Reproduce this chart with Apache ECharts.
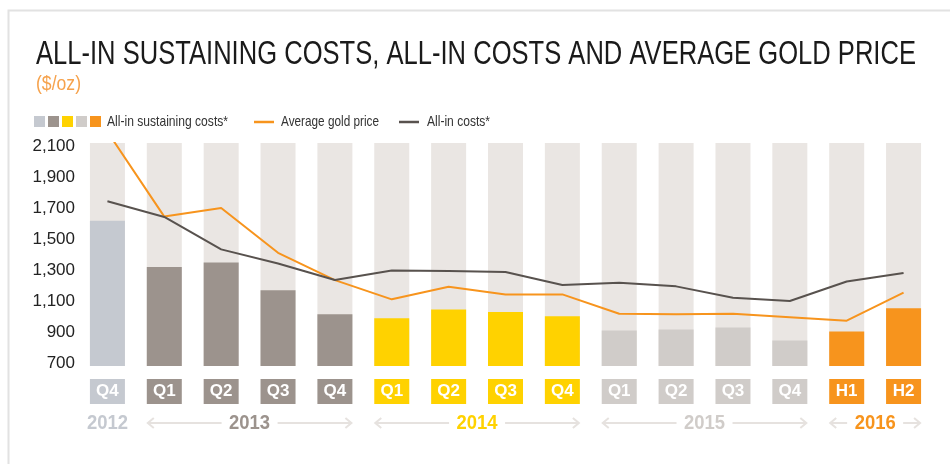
<!DOCTYPE html>
<html>
<head>
<meta charset="utf-8">
<script src="https://cdn.jsdelivr.net/npm/echarts@6/dist/echarts.min.js"></script>
<style>
html,body{margin:0;padding:0;background:#fff;}
#c{width:950px;height:464px;}
</style>
</head>
<body>
<div id="c"></div>
<script>
const categories = ['Q4','Q1','Q2','Q3','Q4','Q1','Q2','Q3','Q4','Q1','Q2','Q3','Q4','H1','H2'];
const periodYears = ['2012','2013','2013','2013','2013','2014','2014','2014','2014','2015','2015','2015','2015','2016','2016'];
const years = ['2012','2013','2014','2015','2016'];
const allInSustainingCosts = [1620,1320,1350,1170,1015,988,1046,1029,1001,910,916,929,845,903,1053];
const averageGoldPrice = [2195,1646,1702,1412,1235,1111,1193,1143,1143,1018,1014,1018,996,973,1155];
const allInCosts = [1745,1644,1434,1343,1236,1297,1295,1288,1204,1219,1195,1122,1100,1226,1282];
const yTickLabels = [700,900,1100,1300,1500,1700,1900,2100];
const titleText = 'ALL-IN SUSTAINING COSTS, ALL-IN COSTS AND AVERAGE GOLD PRICE';
const unitText = '($/oz)';
const legendLabels = ['All-in sustaining costs*','Average gold price','All-in costs*'];

const yearColors = {'2012':'#c5c9d0','2013':'#9c938d','2014':'#ffd200','2015':'#d0ccc9','2016':'#f7941d'};
const FONT = '"Liberation Sans",Arial,sans-serif';
const GOLD = '#f7941d', DARK = '#58524e', ARROW = '#e6e2df';

const rich = {};
years.forEach(y => {
  rich['y' + y] = {backgroundColor: yearColors[y], color:'#fff', width:35, height:25, align:'center',
    verticalAlign:'middle', fontFamily: FONT, fontWeight:'bold', fontSize:17, lineHeight:25};
});

const chart = echarts.init(document.getElementById('c'), null, {renderer:'canvas'});

const option = {
  animation:false,
  backgroundColor:'#fff',
  grid:{left:79, right:18, top:143, bottom:98, containLabel:false},
  xAxis:{
    type:'category', data:categories,
    axisLine:{show:false}, axisTick:{show:false},
    axisLabel:{margin:13, interval:0,
      formatter:(v, i) => '{y' + periodYears[i] + '|' + v + '}', rich: rich}
  },
  yAxis:{
    type:'value', min:680, max:2122,
    splitLine:{show:false}, axisLine:{show:false}, axisTick:{show:false},
    axisLabel:{customValues:yTickLabels, margin:4, fontFamily:FONT, fontSize:17, color:'#222',
      formatter:v => v.toLocaleString('en-US')}
  },
  series:[
    {name:legendLabels[0], type:'bar', barWidth:35,
      showBackground:true, backgroundStyle:{color:'#eae6e3'},
      data: allInSustainingCosts.map((v,i) => ({value:v, itemStyle:{color:yearColors[periodYears[i]]}}))},
    {name:legendLabels[1], type:'line', data:averageGoldPrice, symbol:'none', clip:true,
      lineStyle:{color:GOLD, width:2}, z:3},
    {name:legendLabels[2], type:'line', data:allInCosts, symbol:'none', clip:true,
      lineStyle:{color:DARK, width:2}, z:4}
  ]
};
chart.setOption(option);

// text fitted to a width via horizontal scale
const mctx = document.createElement('canvas').getContext('2d');
function fitText(text, font, x, y, width, fill, align) {
  mctx.font = font;
  const w = mctx.measureText(text).width;
  return {type:'text', x:x, y:y, scaleX: width / w, scaleY:1,
    style:{text:text, font:font, fill:fill, align:align || 'left', verticalAlign:'middle'}};
}

const px = i => chart.convertToPixel({xAxisIndex:0}, i);
const half = 17.5;
const yy = 423;
const g = [];
// frame
g.push({type:'polyline', shape:{points:[[8.5,470],[8.5,10.5],[960,10.5]]}, style:{stroke:'#e2e2e2', lineWidth:2, fill:null}, silent:true});
// title
g.push(fitText(titleText, '33px ' + FONT, 36, 55, 880, '#1a1a1a'));
g.push(fitText(unitText, '20px ' + FONT, 36, 84.5, 45, '#f6a24c'));
// legend
years.forEach((y, k) => {
  g.push({type:'rect', shape:{x:34 + k*14, y:116, width:11, height:11}, style:{fill:yearColors[y]}});
});
g.push(fitText(legendLabels[0], '15px ' + FONT, 107, 121.5, 121, '#333'));
g.push({type:'line', shape:{x1:254, y1:122, x2:274, y2:122}, style:{stroke:GOLD, lineWidth:2.5}});
g.push(fitText(legendLabels[1], '15px ' + FONT, 281, 121.5, 98, '#333'));
g.push({type:'line', shape:{x1:399, y1:122, x2:419, y2:122}, style:{stroke:DARK, lineWidth:2.5}});
g.push(fitText(legendLabels[2], '15px ' + FONT, 427, 121.5, 63, '#333'));

// year labels with arrows
years.forEach(y => {
  const idx = periodYears.map((p,i)=>p===y?i:-1).filter(i=>i>=0);
  const first = idx[0], last = idx[idx.length-1];
  const cx = (px(first) + px(last)) / 2;
  const t = fitText(y, 'bold 20px ' + FONT, cx, yy, 41, yearColors[y], 'center');
  g.push(t);
  if (idx.length > 1) {
    const lx1 = px(first) - half + 1, lx2 = cx - 28;
    const rx1 = cx + 28, rx2 = px(last) + half - 1;
    g.push({type:'line', shape:{x1:lx1, y1:yy, x2:lx2, y2:yy}, style:{stroke:ARROW, lineWidth:2}});
    g.push({type:'polyline', shape:{points:[[lx1+6,yy-5],[lx1,yy],[lx1+6,yy+5]]}, style:{stroke:ARROW, lineWidth:2, fill:null}});
    g.push({type:'line', shape:{x1:rx1, y1:yy, x2:rx2, y2:yy}, style:{stroke:ARROW, lineWidth:2}});
    g.push({type:'polyline', shape:{points:[[rx2-6,yy-5],[rx2,yy],[rx2-6,yy+5]]}, style:{stroke:ARROW, lineWidth:2, fill:null}});
  }
});
chart.setOption({graphic:{elements:g}});
</script>
</body>
</html>
